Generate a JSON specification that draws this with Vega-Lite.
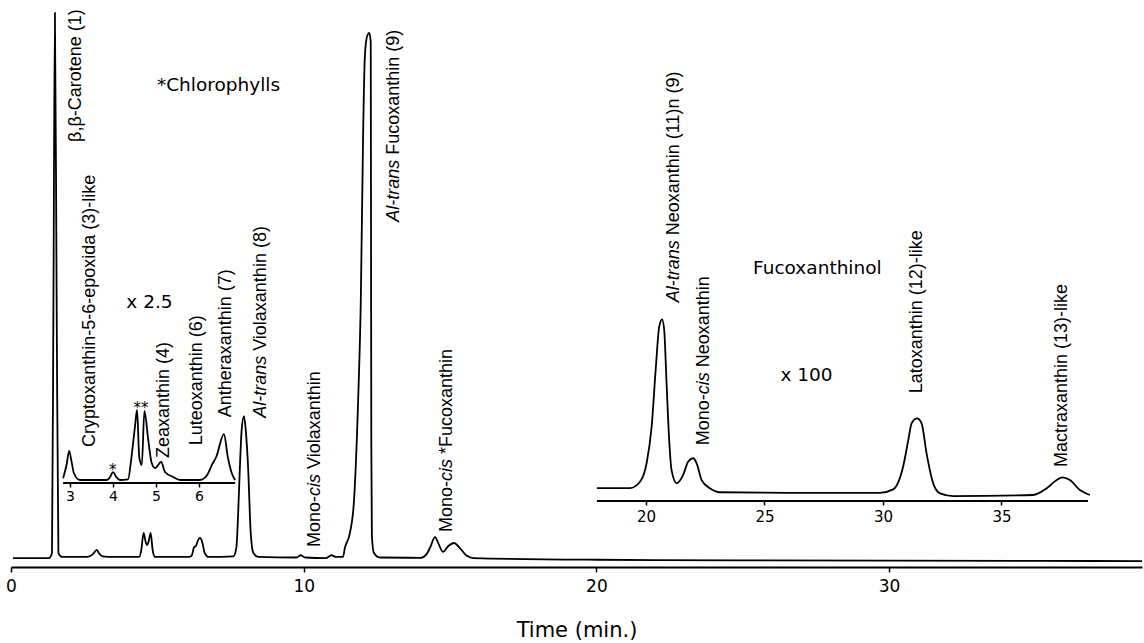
{
  "$schema": "https://vega.github.io/schema/vega-lite/v6.json",
  "width": 1131,
  "height": 567,
  "autosize": {"type": "none"},
  "padding": {"left": 11, "right": 2, "top": 0, "bottom": 76},
  "background": "white",
  "config": {"view": {"stroke": null}, "font": "DejaVu Sans"},
  "resolve": {"scale": {"x": "independent", "y": "independent"}, "axis": {"x": "independent", "y": "independent"}},
  "layer": [
    {
      "layer": [
        {
          "data": {"values": [
            {"t":0.07,"v":0.1},{"t":1.3,"v":0.1},{"t":1.4,"v":1.0},{"t":1.45,"v":46},{"t":1.5,"v":97.7},{"t":1.56,"v":46},{"t":1.62,"v":1.0},{"t":1.75,"v":0.3},
            {"t":2.6,"v":0.3},{"t":2.8,"v":0.8},{"t":2.93,"v":1.55},{"t":3.0,"v":1.0},{"t":3.12,"v":0.4},{"t":3.5,"v":0.3},
            {"t":4.38,"v":0.3},{"t":4.45,"v":1.5},{"t":4.53,"v":4.6},{"t":4.6,"v":3.0},{"t":4.65,"v":2.4},{"t":4.7,"v":3.0},{"t":4.77,"v":4.6},{"t":4.84,"v":1.5},{"t":4.92,"v":0.3},
            {"t":6.1,"v":0.3},{"t":6.18,"v":0.6},{"t":6.25,"v":2.0},{"t":6.32,"v":2.3},{"t":6.4,"v":3.4},{"t":6.46,"v":3.7},{"t":6.53,"v":3.0},{"t":6.62,"v":1.0},{"t":6.75,"v":0.3},
            {"t":7.6,"v":0.4},{"t":7.7,"v":2.0},{"t":7.76,"v":8},{"t":7.82,"v":16.4},{"t":7.88,"v":23},{"t":7.96,"v":25.5},{"t":8.02,"v":23},{"t":8.1,"v":16.4},{"t":8.19,"v":4.6},{"t":8.28,"v":1.0},{"t":8.45,"v":0.3},
            {"t":9.75,"v":0.2},{"t":9.9,"v":0.6},{"t":10.05,"v":0.2},{"t":10.75,"v":0.1},{"t":10.95,"v":0.6},{"t":11.1,"v":0.3},
            {"t":11.34,"v":0.3},{"t":11.41,"v":2.0},{"t":11.58,"v":4.6},{"t":11.72,"v":10.5},{"t":11.86,"v":28.4},{"t":11.95,"v":46},{"t":12.03,"v":76},{"t":12.09,"v":90},{"t":12.17,"v":93.6},{"t":12.24,"v":94.1},{"t":12.29,"v":92.5},{"t":12.3,"v":60},{"t":12.31,"v":20},{"t":12.33,"v":4},{"t":12.4,"v":1.0},{"t":12.6,"v":0.2},
            {"t":14.0,"v":0.15},{"t":14.2,"v":0.8},{"t":14.32,"v":2.0},{"t":14.49,"v":3.9},{"t":14.58,"v":3.0},{"t":14.76,"v":1.2},{"t":14.95,"v":2.3},{"t":15.13,"v":2.8},{"t":15.35,"v":1.8},{"t":15.55,"v":0.6},{"t":15.8,"v":0.1},
            {"t":20,"v":-0.2},{"t":25,"v":-0.3},{"t":30,"v":-0.35},{"t":35,"v":-0.4},{"t":38.64,"v":-0.45}
          ]},
          "mark": {"type": "line", "interpolate": "monotone", "color": "black", "strokeWidth": 1.8},
          "encoding": {
            "x": {"field": "t", "type": "quantitative",
              "scale": {"domain": [0, 38.64], "nice": false, "zero": false},
              "axis": {"values": [0, 10, 20, 30], "title": "Time (min.)", "orient": "bottom", "grid": false,
                "domainColor": "black", "domainWidth": 2, "tickColor": "black", "tickWidth": 1.5, "tickSize": 5,
                "labelFont": "DejaVu Sans", "labelFontSize": 17, "labelColor": "black", "labelPadding": 6, "labelFlush": false,
                "titleFont": "DejaVu Sans", "titleFontSize": 21, "titleFontWeight": "normal", "titleColor": "black", "titlePadding": 25}},
            "y": {"field": "v", "type": "quantitative", "scale": {"domain": [-1.5, 100], "nice": false, "zero": false}, "axis": null}
          }
        },
        {
          "data": {"values": [
            {"t":2.22,"v":74.6,"label":"β,β-Carotene (1)"},
            {"t":2.7,"v":20.0,"label":"Cryptoxanthin-5-6-epoxida (3)-like"},
            {"t":5.23,"v":18.0,"label":"Zeaxanthin (4)"},
            {"t":6.35,"v":20.3,"label":"Luteoxanthin (6)"},
            {"t":7.35,"v":25.3,"label":"Antheraxanthin (7)"},
            {"t":30.95,"v":29.6,"label":"Latoxanthin (12)-like"},
            {"t":35.91,"v":16.4,"label":"Mactraxanthin (13)-like"}
          ]},
          "mark": {"type": "text", "font": "Liberation Sans", "fontSize": 18, "angle": 270, "align": "left", "baseline": "middle", "color": "black"},
          "encoding": {"x": {"field": "t", "type": "quantitative"}, "y": {"field": "v", "type": "quantitative"}, "text": {"field": "label"}}
        },
        {
          "data": {"values": [
            {"t":8.54,"v":25.2,"label":"Al-trans"},
            {"t":13.09,"v":60.3,"label":"Al-trans"},
            {"t":22.65,"v":45.9,"label":"Al-trans"}
          ]},
          "mark": {"type": "text", "font": "Liberation Sans", "fontSize": 18, "fontStyle": "italic", "angle": 270, "align": "left", "baseline": "middle", "color": "black"},
          "encoding": {"x": {"field": "t", "type": "quantitative"}, "y": {"field": "v", "type": "quantitative"}, "text": {"field": "label"}}
        },
        {
          "data": {"values": [
            {"t":8.54,"v":25.2,"label":"Violaxanthin (8)"},
            {"t":13.09,"v":60.3,"label":"Fucoxanthin (9)"},
            {"t":22.65,"v":45.9,"label":"Neoxanthin (11)n (9)"}
          ]},
          "mark": {"type": "text", "font": "Liberation Sans", "fontSize": 18, "angle": 270, "align": "left", "baseline": "middle", "color": "black", "dx": 67},
          "encoding": {"x": {"field": "t", "type": "quantitative"}, "y": {"field": "v", "type": "quantitative"}, "text": {"field": "label"}}
        },
        {
          "data": {"values": [
            {"t":10.39,"v":2.08,"label":"Mono-"},
            {"t":14.9,"v":4.76,"label":"Mono-"},
            {"t":23.68,"v":20.3,"label":"Mono-"}
          ]},
          "mark": {"type": "text", "font": "Liberation Sans", "fontSize": 18, "angle": 270, "align": "left", "baseline": "middle", "color": "black"},
          "encoding": {"x": {"field": "t", "type": "quantitative"}, "y": {"field": "v", "type": "quantitative"}, "text": {"field": "label"}}
        },
        {
          "data": {"values": [
            {"t":10.39,"v":2.08,"label":"cis"},
            {"t":14.9,"v":4.76,"label":"cis"},
            {"t":23.68,"v":20.3,"label":"cis"}
          ]},
          "mark": {"type": "text", "font": "Liberation Sans", "fontSize": 18, "fontStyle": "italic", "angle": 270, "align": "left", "baseline": "middle", "color": "black", "dx": 51},
          "encoding": {"x": {"field": "t", "type": "quantitative"}, "y": {"field": "v", "type": "quantitative"}, "text": {"field": "label"}}
        },
        {
          "data": {"values": [
            {"t":10.39,"v":2.08,"label":"Violaxanthin"},
            {"t":14.9,"v":4.76,"label":"*Fucoxanthin"},
            {"t":23.68,"v":20.3,"label":"Neoxanthin"}
          ]},
          "mark": {"type": "text", "font": "Liberation Sans", "fontSize": 18, "angle": 270, "align": "left", "baseline": "middle", "color": "black", "dx": 78},
          "encoding": {"x": {"field": "t", "type": "quantitative"}, "y": {"field": "v", "type": "quantitative"}, "text": {"field": "label"}}
        },
        {
          "data": {"values": [
            {"t":7.09,"v":84.8,"label":"*Chlorophylls"},
            {"t":4.73,"v":45.9,"label":"x 2.5"},
            {"t":27.55,"v":52.0,"label":"Fucoxanthinol"},
            {"t":27.18,"v":32.9,"label":"x 100"}
          ]},
          "mark": {"type": "text", "font": "DejaVu Sans", "fontSize": 18.5, "align": "center", "baseline": "middle", "color": "black"},
          "encoding": {"x": {"field": "t", "type": "quantitative"}, "y": {"field": "v", "type": "quantitative"}, "text": {"field": "label"}}
        },
        {
          "data": {"values": [
            {"t":3.48,"v":16.6,"label":"*"},
            {"t":4.44,"v":27.7,"label":"**"}
          ]},
          "mark": {"type": "text", "font": "DejaVu Sans", "fontSize": 15, "align": "center", "baseline": "middle", "color": "black", "dy": 4},
          "encoding": {"x": {"field": "t", "type": "quantitative"}, "y": {"field": "v", "type": "quantitative"}, "text": {"field": "label"}}
        }
      ]
    },
    {
      "layer": [
        {
          "data": {"values": [
            {"tl":2.84,"vl":6.4},{"tl":2.92,"vl":25},{"tl":2.98,"vl":43.8},{"tl":3.04,"vl":28},{"tl":3.09,"vl":13.7},{"tl":3.23,"vl":4.1},
            {"tl":3.86,"vl":4.1},{"tl":3.93,"vl":8},{"tl":4.0,"vl":15},{"tl":4.08,"vl":8},{"tl":4.16,"vl":4.1},
            {"tl":4.35,"vl":5},{"tl":4.43,"vl":35.6},{"tl":4.51,"vl":77},{"tl":4.56,"vl":100},{"tl":4.61,"vl":35.6},{"tl":4.67,"vl":24.7},{"tl":4.73,"vl":98.6},{"tl":4.82,"vl":59},{"tl":4.9,"vl":27.4},{"tl":4.98,"vl":20.5},{"tl":5.12,"vl":28.8},{"tl":5.21,"vl":15},{"tl":5.4,"vl":8.2},{"tl":5.56,"vl":4.1},
            {"tl":6.02,"vl":4.1},{"tl":6.19,"vl":11},{"tl":6.3,"vl":24.7},{"tl":6.4,"vl":35.6},{"tl":6.58,"vl":67},{"tl":6.67,"vl":35.6},{"tl":6.76,"vl":13.7},{"tl":6.84,"vl":4.1}
          ]},
          "mark": {"type": "line", "interpolate": "monotone", "color": "black", "strokeWidth": 1.8},
          "encoding": {
            "x": {"field": "tl", "type": "quantitative",
              "scale": {"domain": [1.628, 27.93], "nice": false, "zero": false},
              "axis": {"values": [3, 4, 5, 6], "title": null, "orient": "bottom", "offset": -84, "grid": false, "domain": false,
                "tickColor": "black", "tickWidth": 1.5, "tickSize": 4,
                "labelFont": "DejaVu Sans", "labelFontSize": 14, "labelColor": "black", "labelPadding": 2, "labelFlush": false}},
            "y": {"field": "vl", "type": "quantitative", "scale": {"domain": [-115.07, 661.6], "nice": false, "zero": false}, "axis": null}
          }
        },
        {
          "data": {"values": [{"a": 2.84, "b": 6.84, "vl": 0}]},
          "mark": {"type": "rule", "color": "black", "strokeWidth": 2},
          "encoding": {"x": {"field": "a", "type": "quantitative"}, "x2": {"field": "b"}, "y": {"field": "vl", "type": "quantitative"}}
        }
      ]
    },
    {
      "layer": [
        {
          "data": {"values": [
            {"tr":17.93,"vr":7.1},{"tr":19.32,"vr":7.1},{"tr":19.75,"vr":10.6},{"tr":20.03,"vr":20.9},{"tr":20.24,"vr":40.8},{"tr":20.42,"vr":73.8},{"tr":20.56,"vr":95.8},{"tr":20.68,"vr":99.8},{"tr":20.77,"vr":94},{"tr":20.87,"vr":64.8},{"tr":20.98,"vr":33.5},{"tr":21.08,"vr":17},{"tr":21.3,"vr":9.7},
            {"tr":21.57,"vr":14.3},{"tr":21.78,"vr":21.6},{"tr":22.0,"vr":23.5},{"tr":22.14,"vr":20.7},{"tr":22.35,"vr":11.5},{"tr":22.7,"vr":7},{"tr":23.12,"vr":4.8},{"tr":26,"vr":4.5},{"tr":29.87,"vr":4.5},
            {"tr":30.43,"vr":6.4},{"tr":30.85,"vr":18.8},{"tr":31.07,"vr":33.5},{"tr":31.21,"vr":42.7},{"tr":31.44,"vr":45.4},{"tr":31.63,"vr":42.7},{"tr":31.84,"vr":26.2},{"tr":32.12,"vr":9.7},{"tr":32.41,"vr":4.2},{"tr":32.97,"vr":2.7},
            {"tr":36.34,"vr":3.3},{"tr":36.91,"vr":7},{"tr":37.33,"vr":11.5},{"tr":37.58,"vr":13.0},{"tr":37.89,"vr":11.5},{"tr":38.31,"vr":6},{"tr":38.73,"vr":3.3}
          ]},
          "mark": {"type": "line", "interpolate": "monotone", "color": "black", "strokeWidth": 1.8},
          "encoding": {
            "x": {"field": "tr", "type": "quantitative",
              "scale": {"domain": [-6.79, 40.93], "nice": false, "zero": false},
              "axis": {"values": [20, 25, 30, 35], "title": null, "orient": "bottom", "offset": -66, "grid": false, "domain": false,
                "tickColor": "black", "tickWidth": 1.5, "tickSize": 4,
                "labelFont": "DejaVu Sans", "labelFontSize": 15, "labelColor": "black", "labelPadding": 4, "labelFlush": false}},
            "y": {"field": "vr", "type": "quantitative", "scale": {"domain": [-36.26, 275.27], "nice": false, "zero": false}, "axis": null}
          }
        },
        {
          "data": {"values": [{"a": 17.93, "b": 38.65, "vr": 0}]},
          "mark": {"type": "rule", "color": "black", "strokeWidth": 2},
          "encoding": {"x": {"field": "a", "type": "quantitative"}, "x2": {"field": "b"}, "y": {"field": "vr", "type": "quantitative"}}
        }
      ]
    }
  ]
}
